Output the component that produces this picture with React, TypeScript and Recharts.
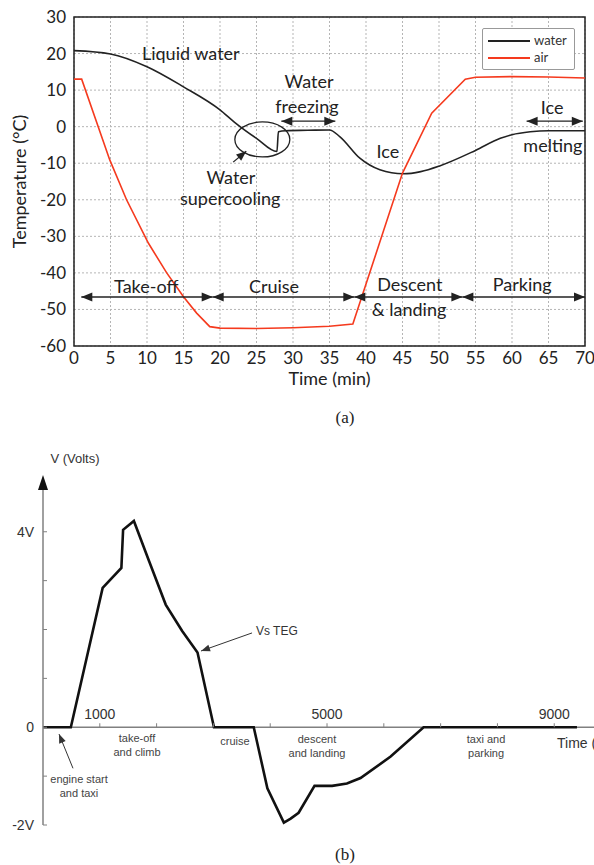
import React from 'react';
import {
  LineChart,
  Line,
  XAxis,
  YAxis,
  CartesianGrid,
  ReferenceLine,
  ReferenceDot,
  ReferenceArea,
  Legend
} from 'recharts';

// (a) temperature during a flight
const waterTime = [0, 5, 10, 15, 20, 22, 25, 27.8, 28, 29, 32, 35, 36.4, 39.2, 41.9, 45.1, 47.5, 50, 55, 58.4, 60, 62.5, 65, 70];
const waterTemp = [20.8, 19.9, 16.4, 10.9, 4.6, 1.2, -3.2, -6.8, -1.4, -1.1, -1, -0.9, -2.7, -8.7, -11.8, -12.9, -12.3, -10.8, -6.5, -3.2, -2.2, -1.4, -1.1, -1.1];
const airTime = [0, 1.05, 4.9, 7.2, 10.2, 12.7, 15, 16.8, 18.6, 20, 25, 30, 35, 38.2, 45, 49, 53.6, 55, 60, 65, 70];
const airTemp = [13, 13, -9.1, -20, -31.9, -40, -46.5, -51, -54.7, -55.1, -55.2, -55, -54.6, -54, -12.7, 3.7, 13, 13.5, 13.7, 13.6, 13.3];
const timeTicksA = [0, 5, 10, 15, 20, 25, 30, 35, 40, 45, 50, 55, 60, 65, 70];
const tempTicks = [-60, -50, -40, -30, -20, -10, 0, 10, 20, 30];
const phaseBounds = [1, 19, 38.4, 53.2, 70];
const seriesNames = ['water', 'air'];

// (b) TEG voltage
const voltTime = [0, 490, 1050, 1380, 1410, 1600, 1870, 2160, 2450, 2720, 3010, 3710, 3950, 4240, 4360, 4500, 4780, 5090, 5350, 5590, 6120, 6700, 9400];
const voltValue = [0, 0, 2.85, 3.26, 4.04, 4.22, 3.39, 2.51, 1.97, 1.53, 0, 0, -1.25, -1.95, -1.87, -1.75, -1.2, -1.2, -1.15, -1.04, -0.6, 0, 0];
const voltTicks = [-2, -1, 0, 1, 2, 3, 4];
const timeTicksB = [1000, 2000, 3000, 4000, 5000, 6000, 7000, 8000, 9000];
const timeLabelsB = [1000, 5000, 9000];

const waterData = waterTime.map((t, i) => ({ t, v: waterTemp[i] }));
const airData = airTime.map((t, i) => ({ t, v: airTemp[i] }));
const voltData = voltTime.map((t, i) => ({ t, v: voltValue[i] }));

const notesA = [
  { t: 16, y: 20, text: ['Liquid water'] },
  { t: 32.2, y: 12.2, text: ['Water'] },
  { t: 31.9, y: 5.4, text: ['freezing'] },
  { t: 21.5, y: -14, text: ['Water'] },
  { t: 21.4, y: -19.8, text: ['supercooling'] },
  { t: 43, y: -6.9, text: ['Ice'] },
  { t: 65.5, y: 5.1, text: ['Ice'] },
  { t: 65.6, y: -5.3, text: ['melting'] },
  { t: 9.9, y: -43.9, text: ['Take-off'] },
  { t: 27.4, y: -43.9, text: ['Cruise'] },
  { t: 46, y: -43.3, text: ['Descent'] },
  { t: 45.9, y: -50.1, text: ['& landing'] },
  { t: 61.4, y: -43.3, text: ['Parking'] }
];

const notesB = [
  { t: 1655, y: -0.23, text: ['take-off', 'and climb'] },
  { t: 3380, y: -0.29, text: ['cruise'] },
  { t: 4824, y: -0.25, text: ['descent', 'and landing'] },
  { t: 7800, y: -0.25, text: ['taxi and', 'parking'] },
  { t: 634, y: -1.07, text: ['engine start', 'and taxi'] }
];

const FONT_A = 'Lato, "Open Sans", sans-serif';
const FONT_B = '"Liberation Sans", Arial, sans-serif';

const head = (x: number, y: number, ang: number, len: number, w: number, color: string) => {
  const bx = x - len * Math.cos(ang);
  const by = y - len * Math.sin(ang);
  const px = -Math.sin(ang) * w;
  const py = Math.cos(ang) * w;
  return <polygon points={`${x},${y} ${bx + px},${by + py} ${bx - px},${by - py}`} fill={color} />;
};

const arrowShape = (start: boolean, end: boolean, color: string, sw: number, len: number, w: number) => (p: any) => {
  const { x1, y1, x2, y2 } = p;
  const ang = Math.atan2(y2 - y1, x2 - x1);
  return (
    <g>
      <line x1={x1} y1={y1} x2={x2} y2={y2} stroke={color} strokeWidth={sw} />
      {end && head(x2, y2, ang, len, w, color)}
      {start && head(x1, y1, ang + Math.PI, len, w, color)}
    </g>
  );
};

const textShape = (lines: string[], size: number, family: string, color: string, lh: number, anchor = 'middle') => (p: any) => (
  <text x={p.cx} y={p.cy} textAnchor={anchor} fontSize={size} fontFamily={family} fill={color}>
    {lines.map((l, i) => (
      <tspan key={i} x={p.cx} dy={i === 0 ? '0.35em' : lh}>
        {l}
      </tspan>
    ))}
  </text>
);

const LegendBox = (props: any) => {
  const payload = props.payload || [];
  return (
    <div style={{ border: '1px solid #999', borderRadius: 2, background: '#fff', width: 93, height: 42, boxSizing: 'border-box', padding: '3px 0 0 5px', fontFamily: FONT_A, fontSize: 13, lineHeight: '17px', color: '#333' }}>
      {seriesNames.map((name) => {
        const e = payload.find((q: any) => q.value === name);
        return (
          <div key={name} style={{ display: 'flex', alignItems: 'center', height: 17 }}>
            <span style={{ display: 'inline-block', width: 42, height: 0, borderTop: `2px solid ${e ? e.color : '#333'}`, marginRight: 4 }} />
            {name}
          </div>
        );
      })}
    </div>
  );
};

const TempChart = () => (
  <LineChart width={594} height={392} margin={{ top: 17, right: 9, left: 14, bottom: 7 }}>
    <CartesianGrid stroke="#b5b5b5" strokeDasharray="2 2" />
    <XAxis
      type="number"
      dataKey="t"
      domain={[0, 70]}
      ticks={timeTicksA}
      tickLine={false}
      axisLine={false}
      tickSize={0}
      tickMargin={6}
      height={39}
      tick={{ fill: '#222', fontSize: 17, fontFamily: FONT_A }}
      label={{ value: 'Time (min)', position: 'insideBottom', offset: 0, fill: '#222', fontSize: 18, fontFamily: FONT_A }}
    />
    <YAxis
      type="number"
      domain={[-60, 30]}
      ticks={tempTicks}
      tickLine={false}
      axisLine={false}
      tickSize={0}
      tickMargin={8}
      width={60}
      tick={{ fill: '#222', fontSize: 17, fontFamily: FONT_A }}
      label={{ value: 'Temperature (°C)', angle: -90, position: 'insideLeft', offset: 0, dx: 6, style: { textAnchor: 'middle' }, fill: '#222', fontSize: 18, fontFamily: FONT_A }}
    />
    <ReferenceArea x1={0} x2={70} y1={-60} y2={30} fill="none" stroke="#222" strokeWidth={1.5} />
    <Line data={waterData} dataKey="v" name="water" type="monotone" stroke="#222" strokeWidth={1.6} dot={false} isAnimationActive={false} />
    <Line data={airData} dataKey="v" name="air" type="linear" stroke="#f53a1e" strokeWidth={1.6} dot={false} isAnimationActive={false} />
    <Legend
      layout="horizontal"
      verticalAlign="middle"
      align="center"
      content={<LegendBox />}
      wrapperStyle={{ top: 28, left: 482, width: 93, height: 42 }}
    />
    {notesA.map((n, i) => (
      <ReferenceDot key={`na${i}`} x={n.t} y={n.y} r={0} ifOverflow="visible" shape={textShape(n.text, 18, FONT_A, '#222', 22)} />
    ))}
    <ReferenceDot x={25.8} y={-3.5} r={0} shape={(p: any) => <ellipse cx={p.cx} cy={p.cy} rx={27.5} ry={17.5} fill="none" stroke="#222" strokeWidth={1.3} />} />
    <ReferenceLine segment={[{ x: 21.8, y: -9.7 }, { x: 23.6, y: -6.7 }]} shape={arrowShape(false, true, '#222', 1.3, 10, 4)} />
    <ReferenceLine segment={[{ x: 28.4, y: 1.5 }, { x: 35.8, y: 1.5 }]} shape={arrowShape(true, true, '#222', 1.3, 11, 4.5)} />
    <ReferenceLine segment={[{ x: 62, y: 1.5 }, { x: 69.7, y: 1.5 }]} shape={arrowShape(true, true, '#222', 1.3, 11, 4.5)} />
    {phaseBounds.slice(0, -1).map((b, i) => (
      <ReferenceLine key={`ph${i}`} segment={[{ x: b, y: -46.6 }, { x: phaseBounds[i + 1], y: -46.6 }]} shape={arrowShape(true, true, '#222', 1.3, 11, 4.5)} />
    ))}
  </LineChart>
);

const VoltChart = () => (
  <LineChart width={594} height={400} margin={{ top: 38, right: 0, left: 13, bottom: 15 }}>
    <XAxis type="number" dataKey="t" domain={[0, 9700]} hide />
    <YAxis
      type="number"
      domain={[-2, 5.1]}
      ticks={voltTicks}
      allowDataOverflow
      width={30}
      tickLine={false}
      tickSize={0}
      tickMargin={9}
      axisLine={{ stroke: '#808080', strokeWidth: 1.5 }}
      tickFormatter={(v: number) => (v === 4 ? '4V' : v === 0 ? '0' : v === -2 ? '-2V' : '')}
      tick={{ fill: '#333', fontSize: 14, fontFamily: FONT_B }}
    />
    <ReferenceLine y={0} stroke="#808080" strokeWidth={1.5} />
    {voltTicks.map((v) => (
      <ReferenceDot key={`vt${v}`} x={0} y={v} r={0} shape={(p: any) => <line x1={p.cx} y1={p.cy} x2={p.cx + 4} y2={p.cy} stroke="#808080" strokeWidth={1} />} />
    ))}
    {timeTicksB.map((t) => (
      <ReferenceDot key={`tt${t}`} x={t} y={0} r={0} shape={(p: any) => <line x1={p.cx} y1={p.cy} x2={p.cx} y2={p.cy - 4} stroke="#808080" strokeWidth={1} />} />
    ))}
    {timeLabelsB.map((t) => (
      <ReferenceDot key={`tl${t}`} x={t} y={0} r={0} shape={(p: any) => <text x={p.cx} y={p.cy - 8} textAnchor="middle" fontSize={14} fontFamily={FONT_B} fill="#333">{t}</text>} />
    ))}
    <ReferenceDot x={0} y={5.1} r={0} ifOverflow="visible" shape={(p: any) => <polygon points={`${p.cx},${p.cy - 3} ${p.cx - 5},${p.cy + 12} ${p.cx + 5},${p.cy + 12}`} fill="#111" />} />
    <ReferenceDot x={563} y={5.49} r={0} ifOverflow="visible" shape={textShape(['V (Volts)'], 13, FONT_B, '#333', 14)} />
    <Line data={voltData} dataKey="v" type="linear" stroke="#111" strokeWidth={2.6} dot={false} isAnimationActive={false} />
    {notesB.map((n, i) => (
      <ReferenceDot key={`nb${i}`} x={n.t} y={n.y} r={0} ifOverflow="visible" shape={textShape(n.text, 11, FONT_B, '#444', 14)} />
    ))}
    <ReferenceDot x={3750} y={1.97} r={0} shape={textShape(['Vs TEG'], 12, FONT_B, '#333', 14, 'start')} />
    <ReferenceDot x={9050} y={-0.33} r={0} ifOverflow="visible" shape={textShape(['Time (s)'], 14, FONT_B, '#333', 14, 'start')} />
    <ReferenceLine segment={[{ x: 3680, y: 1.93 }, { x: 2782, y: 1.56 }]} shape={arrowShape(false, true, '#333', 1, 9, 3.5)} />
    <ReferenceLine segment={[{ x: 528, y: -0.84 }, { x: 282, y: -0.14 }]} shape={arrowShape(false, true, '#333', 1, 9, 3.5)} />
  </LineChart>
);

const caption: React.CSSProperties = {
  position: 'absolute',
  left: 320,
  width: 50,
  textAlign: 'center',
  fontFamily: '"Liberation Serif", "Times New Roman", serif',
  fontSize: 17,
  lineHeight: '20px',
  color: '#222'
};

export default function App() {
  return (
    <div style={{ position: 'absolute', left: 0, top: 0, width: 594, height: 865, background: '#fff', overflow: 'hidden' }}>
      <div style={{ position: 'absolute', left: 0, top: 0 }}>
        <TempChart />
      </div>
      <div style={{ ...caption, top: 408 }}>(a)</div>
      <div style={{ position: 'absolute', left: 0, top: 440 }}>
        <VoltChart />
      </div>
      <div style={{ ...caption, top: 845 }}>(b)</div>
    </div>
  );
}
